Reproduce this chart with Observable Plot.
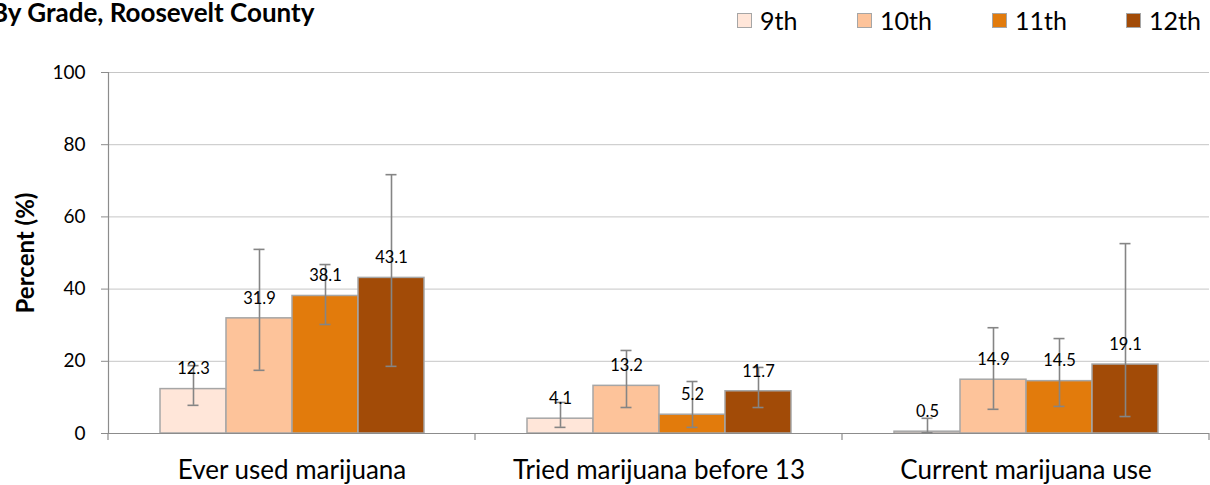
<!DOCTYPE html>
<html>
<head>
<meta charset="utf-8">
<script src="https://cdn.jsdelivr.net/npm/d3@7"></script>
<script src="https://cdn.jsdelivr.net/npm/@observablehq/plot@0.6"></script>
<style>
  html, body { margin: 0; padding: 0; background: #fff; }
  #wrap { position: relative; width: 1210px; height: 485px; overflow: hidden; font-family: Lato, "Open Sans", sans-serif; background: #fff; }
  #title { position: absolute; left: -9px; top: -3px; font-weight: bold; font-size: 26px; line-height: 30px; color: #000; white-space: nowrap; z-index: 2; }
  #legend { position: absolute; left: 0; top: 0; width: 1210px; height: 40px; z-index: 2; }
  .item { position: absolute; top: 5px; height: 30px; display: flex; align-items: center; font-size: 25px; color: #000; white-space: nowrap; }
  .sw { width: 13px; height: 13px; border: 1.5px solid #A6A6A6; margin-right: 8px; }
  #ylab { position: absolute; left: 24px; top: 253px; transform: translate(-50%, -50%) rotate(-90deg); font-weight: bold; font-size: 24px; white-space: nowrap; color: #000; z-index: 2; }
  #chart { position: absolute; left: 0; top: 40px; z-index: 1; }
</style>
</head>
<body>
<div id="wrap">
  <div id="title">By Grade, Roosevelt County</div>
  <div id="legend"></div>
  <div id="ylab">Percent (%)</div>
  <div id="chart"></div>
</div>
<script>
const categories = ["Ever used marijuana", "Tried marijuana before 13", "Current marijuana use"];
const grades = ["9th", "10th", "11th", "12th"];
const colors = ["#FFE6D9", "#FDC39A", "#E27B0C", "#A24B07"];

const values9th  = [12.3, 4.1, 0.5];
const values10th = [31.9, 13.2, 14.9];
const values11th = [38.1, 5.2, 14.5];
const values12th = [43.1, 11.7, 19.1];

const low9th  = [7.8, 1.7, 0.2];
const high9th = [18.8, 8.6, 4.2];
const low10th  = [17.5, 7.2, 6.7];
const high10th = [51.0, 23.0, 29.3];
const low11th  = [30.2, 1.7, 7.5];
const high11th = [46.8, 14.4, 26.3];
const low12th  = [18.6, 7.2, 4.7];
const high12th = [71.7, 18.3, 52.6];

const yTicks = [0, 20, 40, 60, 80, 100];

const series = [
  {grade: "9th", values: values9th, low: low9th, high: high9th},
  {grade: "10th", values: values10th, low: low10th, high: high10th},
  {grade: "11th", values: values11th, low: low11th, high: high11th},
  {grade: "12th", values: values12th, low: low12th, high: high12th}
];
const rows = [];
series.forEach(s => categories.forEach((c, i) => rows.push({category: c, grade: s.grade, value: s.values[i], low: s.low[i], high: s.high[i]})));

// Legend (layout positions of the legend entries)
const legendLefts = [737, 857, 992, 1126];
const legend = document.getElementById("legend");
grades.forEach((g, i) => {
  const it = document.createElement("div"); it.className = "item"; it.style.left = legendLefts[i] + "px";
  const sw = document.createElement("div"); sw.className = "sw"; sw.style.background = colors[i];
  const t = document.createElement("span"); t.textContent = g;
  it.appendChild(sw); it.appendChild(t); legend.appendChild(it);
});

const gridColor = "#C6C6C6";
const axisColor = "#8C8C8C";
const errColor = "#858585";

const plot = Plot.plot({
  width: 1210,
  height: 445,
  marginTop: 32,
  marginBottom: 52,
  marginLeft: 107,
  marginRight: 1,
  style: {fontFamily: "Lato, 'Open Sans', sans-serif", color: "#000", background: "transparent"},
  fx: {domain: categories, padding: 0, label: null},
  x: {domain: grades, paddingInner: 0, paddingOuter: 0.75, axis: null},
  y: {domain: [0, 100], label: null},
  color: {domain: grades, range: colors},
  marks: [
    Plot.gridY(yTicks, {stroke: gridColor, strokeOpacity: 1, strokeWidth: 1}),
    Plot.barY(rows, {fx: "category", x: "grade", y: "value", fill: "grade", stroke: "#A6A6A6", strokeWidth: 1.5}),
    Plot.ruleY([0], {stroke: axisColor, strokeWidth: 1.2}),
    Plot.ruleX(rows, {fx: "category", x: "grade", y1: "low", y2: "high", stroke: errColor, strokeWidth: 1.6}),
    Plot.tickY(rows, {fx: "category", x: "grade", y: "low", stroke: errColor, strokeWidth: 1.6, insetLeft: 27.5, insetRight: 27.5}),
    Plot.tickY(rows, {fx: "category", x: "grade", y: "high", stroke: errColor, strokeWidth: 1.6, insetLeft: 27.5, insetRight: 27.5}),
    Plot.text(rows, {fx: "category", x: "grade", y: "value", text: d => d.value.toFixed(1), dy: -20, fontSize: 16.5, fill: "#000"}),
    Plot.frame({anchor: "left", stroke: axisColor, strokeWidth: 1.2, facetAnchor: "left"}),
    Plot.axisY({ticks: yTicks, tickSize: 7, tickPadding: 16, fontSize: 19, stroke: axisColor, label: null}),
    Plot.axisFx({anchor: "bottom", tickSize: 0, tickPadding: 27, fontSize: 26, label: null})
  ]
});

// category boundary ticks on the x axis, placed from the fx scale
const fx = plot.scale("fx");
const yS = plot.scale("y");
const bw = fx.bandwidth;
const edges = categories.map(c => fx.apply(c)).concat([fx.apply(categories[categories.length - 1]) + bw]);
const y0 = yS.apply(0);
d3.select(plot).append("g")
  .selectAll("line").data(edges).join("line")
  .attr("x1", d => d).attr("x2", d => d)
  .attr("y1", y0).attr("y2", y0 + 7)
  .attr("stroke", axisColor).attr("stroke-width", 1.2);

document.getElementById("chart").appendChild(plot);
</script>
</body>
</html>
